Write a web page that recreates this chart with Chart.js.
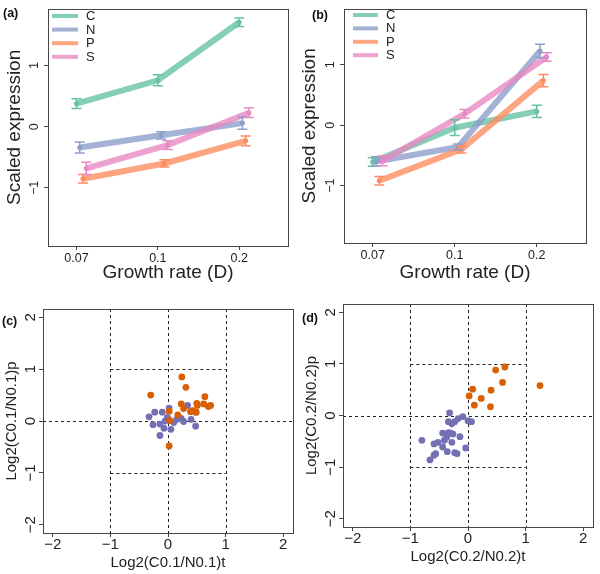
<!DOCTYPE html>
<html>
<head>
<meta charset="utf-8">
<script src="https://cdn.jsdelivr.net/npm/chart.js@4.4.0/dist/chart.umd.min.js"></script>
<style>
body{margin:0;background:#fff;}
#wrap{position:relative;width:600px;height:574px;font-family:"Liberation Sans",Arial,sans-serif;}
canvas{position:absolute;}
.tag{position:absolute;font-weight:bold;font-size:12.5px;line-height:14px;color:#111;}
</style>
</head>
<body>
<div id="wrap">
<canvas id="pa" width="300" height="290" style="left:0;top:0"></canvas>
<canvas id="pb" width="300" height="290" style="left:300px;top:0"></canvas>
<canvas id="pc" width="300" height="284" style="left:0;top:290px"></canvas>
<canvas id="pd" width="300" height="284" style="left:300px;top:290px"></canvas>
<div class="tag" style="left:3px;top:6px">(a)</div>
<div class="tag" style="left:312px;top:8px">(b)</div>
<div class="tag" style="left:2px;top:314px">(c)</div>
<div class="tag" style="left:302px;top:311px">(d)</div>
</div>
<script>
var rates = ['0.07', '0.1', '0.2'];
var series = ['C', 'N', 'P', 'S'];

// panel (a)
var aC = [0.38, 0.76, 1.71];
var aN = [-0.34, -0.14, 0.06];
var aP = [-0.85, -0.60, -0.23];
var aS = [-0.68, -0.30, 0.23];
var aCerr = [0.08, 0.09, 0.07];
var aNerr = [0.09, 0.06, 0.10];
var aPerr = [0.07, 0.06, 0.08];
var aSerr = [0.10, 0.07, 0.08];

// panel (b)
var bC = [-0.61, -0.04, 0.23];
var bN = [-0.60, -0.36, 1.23];
var bP = [-0.92, -0.40, 0.74];
var bS = [-0.59, 0.19, 1.13];
var bCerr = [0.07, 0.13, 0.10];
var bNerr = [0.08, 0.05, 0.11];
var bPerr = [0.07, 0.06, 0.10];
var bSerr = [0.08, 0.07, 0.07];

var lineTicks = [-1, 0, 1];
var scatterTicks = [-2, -1, 0, 1, 2];
var refV = [-1, 0, 1];
var refHfull = [0];
var refHpart = [-1, 1];

// panel (c)
var cPurpleX = [-0.33, -0.23, -0.26, -0.10, -0.14, -0.07, -0.14, -0.05, -0.01, 0.02, 0.05, 0.10, 0.15, 0.23, 0.27, 0.34, 0.40, 0.48, 0.48];
var cPurpleY = [0.08, 0.17, -0.07, 0.17, -0.06, -0.14, -0.28, 0.00, 0.07, 0.25, -0.16, -0.03, 0.03, 0.05, -0.01, 0.30, 0.03, 0.17, -0.10];
var cOrangeX = [-0.30, 0.24, 0.31, 0.23, 0.27, 0.02, 0.03, 0.17, 0.39, 0.43, 0.49, 0.50, 0.51, 0.62, 0.64, 0.70, 0.74, 0.02];
var cOrangeY = [0.50, 0.85, 0.65, 0.33, 0.24, 0.19, 0.01, 0.12, 0.18, 0.20, 0.17, 0.34, 0.30, 0.33, 0.47, 0.28, 0.30, -0.48];

// panel (d)
var dPurpleX = [-0.32, -0.09, -0.17, 0.00, 0.06, -0.34, -0.28, -0.23, -0.44, -0.34, -0.30, -0.26, -0.14, -0.37, -0.41, -0.80, -0.52, -0.59, -0.28, -0.44, -0.04, -0.36, -0.56, -0.59, -0.23, -0.19, -0.66];
var dPurpleY = [0.05, -0.02, -0.06, -0.10, -0.12, -0.12, -0.16, -0.12, -0.34, -0.33, -0.34, -0.36, -0.41, -0.42, -0.48, -0.48, -0.52, -0.55, -0.52, -0.61, -0.63, -0.70, -0.74, -0.77, -0.72, -0.74, -0.86];
var dOrangeX = [0.64, 0.48, 0.60, 1.25, 0.08, 0.40, 0.02, 0.23, 0.11, 0.39];
var dOrangeY = [0.94, 0.88, 0.64, 0.58, 0.51, 0.49, 0.38, 0.33, 0.20, 0.17];

var dodge = [0, 0.04, 0.08, 0.12];
var lineCol = ['rgba(102,194,165,0.8)', 'rgba(141,160,203,0.8)', 'rgba(252,141,98,0.8)', 'rgba(231,138,195,0.8)'];
var dotCol = ['rgb(102,194,165)', 'rgb(141,160,203)', 'rgb(252,141,98)', 'rgb(231,138,195)'];
var FONT = '"Liberation Sans", Arial, sans-serif';
Chart.defaults.font.family = FONT;
Chart.defaults.color = '#222';

function minus(v){ return String(v).replace('-', '\u2212'); }

var boxPlugin = {
  id: 'box',
  afterDraw: function(chart){
    var a = chart.chartArea, ctx = chart.ctx;
    ctx.save();
    ctx.strokeStyle = '#444';
    ctx.lineWidth = 1;
    ctx.strokeRect(Math.round(a.left) + 0.5, Math.round(a.top) + 0.5, Math.round(a.right - a.left), Math.round(a.bottom - a.top));
    ctx.restore();
  }
};

var errPlugin = {
  id: 'errbars',
  afterDatasetsDraw: function(chart){
    var ctx = chart.ctx, ys = chart.scales.y;
    chart.data.datasets.forEach(function(ds, i){
      if (!ds.err) return;
      var meta = chart.getDatasetMeta(i);
      ctx.save();
      ctx.strokeStyle = ds.pointBackgroundColor;
      ctx.lineWidth = 1.5;
      meta.data.forEach(function(el, j){
        var v = ds.data[j].y, e = ds.err[j];
        var t = ys.getPixelForValue(v + e), b = ys.getPixelForValue(v - e);
        ctx.beginPath();
        ctx.moveTo(el.x, t); ctx.lineTo(el.x, b);
        ctx.moveTo(el.x - 5, t); ctx.lineTo(el.x + 5, t);
        ctx.moveTo(el.x - 5, b); ctx.lineTo(el.x + 5, b);
        ctx.stroke();
      });
      ctx.restore();
    });
  }
};

var legendPlugin = {
  id: 'boxlegend',
  afterDraw: function(chart, args, o){
    if (!o.x) return;
    var ctx = chart.ctx;
    ctx.save();
    ctx.font = '13px ' + FONT;
    ctx.textBaseline = 'middle';
    chart.data.datasets.forEach(function(ds, i){
      var y = o.y + i * o.step;
      ctx.strokeStyle = ds.borderColor;
      ctx.lineWidth = 4;
      ctx.beginPath();
      ctx.moveTo(o.x, y); ctx.lineTo(o.x + o.len, y);
      ctx.stroke();
      ctx.fillStyle = '#222';
      ctx.fillText(ds.label, o.x + o.len + 8, y + 0.5);
    });
    ctx.restore();
  }
};

var refPlugin = {
  id: 'reflines',
  beforeDatasetsDraw: function(chart, args, o){
    if (!o.on) return;
    var ctx = chart.ctx, xs = chart.scales.x, ys = chart.scales.y, a = chart.chartArea;
    ctx.save();
    ctx.strokeStyle = '#222';
    ctx.lineWidth = 1;
    ctx.setLineDash([3, 3]);
    ctx.beginPath();
    refV.forEach(function(v){
      var px = Math.round(xs.getPixelForValue(v)) + 0.5;
      ctx.moveTo(px, a.top); ctx.lineTo(px, a.bottom);
    });
    refHfull.forEach(function(v){
      var py = Math.round(ys.getPixelForValue(v)) + 0.5;
      ctx.moveTo(a.left, py); ctx.lineTo(a.right, py);
    });
    refHpart.forEach(function(v){
      var py = Math.round(ys.getPixelForValue(v)) + 0.5;
      ctx.moveTo(xs.getPixelForValue(-1), py); ctx.lineTo(xs.getPixelForValue(1), py);
    });
    ctx.stroke();
    ctx.restore();
  }
};

function axisTicks(list){
  return function(s){ s.ticks = list.map(function(v){ return {value: v}; }); };
}

function baseScales(box, xOpt, yOpt){
  return {
    x: {
      type: 'linear', min: xOpt.min, max: xOpt.max,
      afterBuildTicks: axisTicks(xOpt.ticks),
      afterFit: function(s){ s.height = box.h; },
      grid: {drawOnChartArea: false, tickLength: 4, color: '#444'},
      border: {display: false},
      ticks: {font: {size: xOpt.font, lineHeight: 1}, padding: xOpt.pad, maxRotation: 0, callback: xOpt.fmt},
      title: {display: true, text: xOpt.title, font: {size: xOpt.tfont, lineHeight: 1}, padding: {top: 0, bottom: xOpt.tpad}}
    },
    y: {
      type: 'linear', min: yOpt.min, max: yOpt.max,
      afterBuildTicks: axisTicks(yOpt.ticks),
      afterFit: function(s){ s.width = box.l; },
      grid: {drawOnChartArea: false, tickLength: 4, color: '#444'},
      border: {display: false},
      ticks: {font: {size: yOpt.font, lineHeight: 1}, padding: yOpt.pad, minRotation: 90, maxRotation: 90, crossAlign: 'center', callback: minus},
      title: {display: true, text: yOpt.title, font: {size: yOpt.tfont, lineHeight: 1}, padding: {top: yOpt.tpad, bottom: 0}}
    }
  };
}

function linePanel(id, vals, errs, box, leg){
  var datasets = [];
  series.forEach(function(name, s){
    datasets.push({
      label: name,
      data: vals[s].map(function(v, i){ return {x: i + 1 + dodge[s], y: v}; }),
      err: errs[s],
      showLine: true,
      borderColor: lineCol[s],
      borderWidth: 6,
      pointBackgroundColor: dotCol[s],
      pointBorderWidth: 0,
      pointRadius: 2.5,
      order: -s
    });
  });
  return new Chart(document.getElementById(id), {
    type: 'scatter',
    data: {datasets: datasets},
    plugins: [boxPlugin, errPlugin, legendPlugin],
    options: {
      responsive: false, animation: false, devicePixelRatio: 1,
      layout: {padding: {left: 0, top: box.t, right: box.r, bottom: 0}},
      plugins: {legend: {display: false}, tooltip: {enabled: false}, boxlegend: leg},
      scales: baseScales(box,
        {min: 0.65, max: 3.6, ticks: [1, 2, 3], font: 12.5, pad: 2, fmt: function(v){ return rates[v - 1]; }, title: 'Growth rate (D)', tfont: 19, tpad: 7.5},
        {min: -1.95, max: 1.93, ticks: lineTicks, font: 12.5, pad: 2.5, title: 'Scaled expression', tfont: 19, tpad: box.ytp})
    }
  });
}

function pts(xs, ys){ return xs.map(function(x, i){ return {x: x, y: ys[i]}; }); }

function scatterPanel(id, px, py, ox, oy, box, label){
  return new Chart(document.getElementById(id), {
    type: 'scatter',
    data: {datasets: [
      {label: 'down', data: pts(px, py), pointBackgroundColor: '#7570b3', pointBorderWidth: 0, pointRadius: 3.4, order: 0},
      {label: 'up', data: pts(ox, oy), pointBackgroundColor: '#d95f02', pointBorderWidth: 0, pointRadius: 3.4, order: -1}
    ]},
    plugins: [boxPlugin, refPlugin],
    options: {
      responsive: false, animation: false, devicePixelRatio: 1,
      layout: {padding: {left: 0, top: box.t, right: box.r, bottom: 0}},
      plugins: {legend: {display: false}, tooltip: {enabled: false}, reflines: {on: true}},
      scales: baseScales(box,
        {min: -2.17, max: 2.17, ticks: scatterTicks, font: 15, pad: 0.5, fmt: minus, title: 'Log2(' + label + ')t', tfont: 15, tpad: box.xtp},
        {min: -2.16, max: 2.16, ticks: scatterTicks, font: 15, pad: 0, title: 'Log2(' + label + ')p', tfont: 15, tpad: 4.5})
    }
  });
}

linePanel('pa', [aC, aN, aP, aS], [aCerr, aNerr, aPerr, aSerr], {l: 48, r: 12, t: 3, h: 44, ytp: 5.5}, {x: 52, y: 16, step: 13.6, len: 26});
linePanel('pb', [bC, bN, bP, bS], [bCerr, bNerr, bPerr, bSerr], {l: 44, r: 14, t: 3, h: 47, ytp: 0}, {x: 53, y: 15, step: 13.4, len: 25});
scatterPanel('pc', cPurpleX, cPurpleY, cOrangeX, cOrangeY, {l: 43, r: 7, t: 19, h: 41, xtp: 3.8}, 'C0.1/N0.1');
scatterPanel('pd', dPurpleX, dPurpleY, dOrangeX, dOrangeY, {l: 43, r: 7, t: 14, h: 47, xtp: 9.5}, 'C0.2/N0.2');
</script>
</body>
</html>
